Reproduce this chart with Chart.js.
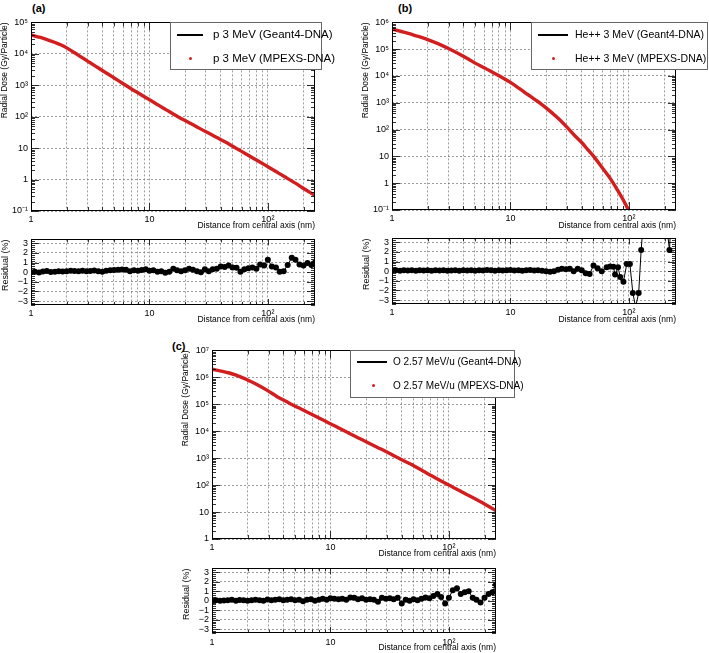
<!DOCTYPE html>
<html><head><meta charset="utf-8">
<script src="https://cdn.jsdelivr.net/npm/chart.js@4.4.1/dist/chart.umd.min.js"></script>
<style>
body{margin:0;width:709px;height:653px;background:#fff;position:relative;overflow:hidden;font-family:"Liberation Sans",Arial,sans-serif}
canvas{position:absolute}
.lab{position:absolute;font-weight:bold;font-size:11px;line-height:12px}
.leg{position:absolute;background:#fff;border:1px solid #666;box-sizing:border-box}
.leg .ln{position:absolute;height:2px;background:#000}
.leg .dt{position:absolute;width:3px;height:3px;border-radius:50%;background:#d21e1e}
.leg .tx{position:absolute;white-space:nowrap;color:#000}
</style></head><body>
<div class="lab" style="left:32px;top:2px">(a)</div>
<div class="lab" style="left:398px;top:2px">(b)</div>
<div class="lab" style="left:172px;top:340px">(c)</div>

<canvas id="mainA"></canvas><canvas id="resA"></canvas>
<canvas id="mainB"></canvas><canvas id="resB"></canvas>
<canvas id="mainC"></canvas><canvas id="resC"></canvas>

<div class="leg" style="left:170px;top:22px;width:152px;height:48px;font-size:11.5px">
  <div class="ln" style="left:6px;top:11px;width:26px"></div>
  <div class="tx" style="left:42px;top:4px;line-height:14px">p 3 MeV (Geant4-DNA)</div>
  <div class="dt" style="left:18px;top:34px"></div>
  <div class="tx" style="left:42px;top:28px;line-height:14px">p 3 MeV (MPEXS-DNA)</div>
</div>
<div class="leg" style="left:531px;top:22px;width:177px;height:48px;font-size:10.5px">
  <div class="ln" style="left:6px;top:11px;width:30px"></div>
  <div class="tx" style="left:43px;top:5px;line-height:13px">He++ 3 MeV (Geant4-DNA)</div>
  <div class="dt" style="left:20px;top:34px"></div>
  <div class="tx" style="left:43px;top:29px;line-height:13px">He++ 3 MeV (MPEXS-DNA)</div>
</div>
<div class="leg" style="left:350px;top:350px;width:165px;height:48px;font-size:10px">
  <div class="ln" style="left:6px;top:10px;width:30px"></div>
  <div class="tx" style="left:42px;top:5px;line-height:12px">O 2.57 MeV/u (Geant4-DNA)</div>
  <div class="dt" style="left:21px;top:33px"></div>
  <div class="tx" style="left:42px;top:29px;line-height:12px">O 2.57 MeV/u (MPEXS-DNA)</div>
</div>

<script>
// ---------------- DATA ----------------
const distMain = [1,1.2,1.4,1.6,1.8,2,2.5,3,3.5,4,4.5,5,6,7,8,9,10,12,14,16,18,20,25,30,35,40,45,50,60,70,80,90,100,120,140,160,180,200,225,250];

const doseA = [39800,33100,27500,22900,19100,15500, 9120,5890,4070,2950,2240,1740, 1120,776,575,437,347, 229,162,120,93,76, 48,33,24.5,18.6,14.8,11.7, 7.9,5.6,4.2,3.24,2.57, 1.70,1.20,0.89,0.68,0.52,0.40,0.31];
const doseB = [562000,457000,380000,316000,269000,229000, 155000,107000,75900,55000,40700,30900, 20400,14100,10200,7600,5750, 3310,2040,1350,933,646, 275,123,59,33,17.8,10.5, 3.63,1.45,0.56,0.23,0.093, null,null,null,null,null,null,null];
const doseC = [2.0e6,1.70e6,1.45e6,1.20e6,9.8e5,7.9e5, 4.9e5,3.09e5,2.0e5,1.45e5,1.10e5,87100, 58900,41700,30900,24000,19100, 12600,8900,6600,5130,4070, 2510,1700,1175,871,676,537, 339,234,170,129,100, 66,45.7,33.9,25.7,20,14.8,11.2];

const distRes = [1,1.08,1.17,1.26,1.36,1.47,1.59,1.71,1.85,2,
 2.16,2.33,2.52,2.72,2.94,3.17,3.42,3.7,4,4.32,
 4.66,5.03,5.44,5.87,6.34,6.85,7.4,8,8.6,9.3,
 10,10.8,11.7,12.6,13.6,14.7,15.9,17.1,18.5,20,
 21.6,23.3,25.2,27.2,29.4,31.7,34.2,37,40,43.2,
 46.6,50.3,54.4,58.7,63.4,68.5,74,80,86,93,
 100,108,117,126,136,147,159,171,185,200,
 216,233,250];

const resA = [0.0,0.05,-0.02,0.08,0.12,0.02,0.05,0.1,0.08,0.1,
 0.15,0.12,0.1,0.14,0.1,0.12,0.18,0.1,0.05,0.15,
 0.2,0.22,0.25,0.28,0.25,0.1,0.2,0.15,0.22,0.3,
 0.15,0.2,0.05,0.1,-0.05,0.05,0.35,0.2,0.1,0.2,
 0.35,0.25,0.1,0.0,0.3,0.1,0.3,0.35,0.6,0.55,
 0.7,0.5,0.45,0.05,0.3,0.4,0.5,0.35,0.8,0.7,
 1.3,0.6,0.5,0.05,0.1,0.75,1.5,1.3,0.8,0.7,
 0.95,0.75,1.0];

const resC = [0.0,0.05,0.0,0.02,0.05,0.1,0.0,0.08,0.05,0.0,
 0.05,0.1,0.05,0.0,0.12,0.05,0.1,0.15,0.05,0.1,
 0.15,0.05,0.1,-0.05,0.1,0.15,0.0,0.1,0.2,0.1,
 0.25,0.2,0.15,0.2,0.1,0.35,0.3,0.15,0.25,0.1,
 0.15,0.1,-0.1,0.3,0.2,0.25,0.15,0.3,-0.3,0.1,
 0.0,0.15,0.05,0.2,0.35,0.25,0.5,0.7,0.4,-0.3,
 0.3,1.1,1.3,0.7,0.9,1.0,0.3,0.1,-0.2,0.3,
 0.7,0.9,1.7];

const distResB = [1,1.08,1.17,1.26,1.36,1.47,1.59,1.71,1.85,2,
 2.16,2.33,2.52,2.72,2.94,3.17,3.42,3.7,4,4.32,
 4.66,5.03,5.44,5.87,6.34,6.85,7.4,8,8.6,9.3,
 10,10.8,11.7,12.6,13.6,14.7,15.9,17.1,18.5,20,
 21.6,23.3,25.2,27.2,29.4,31.7,34.2,37,40,43.2,
 46.6,50.3,54.4,
 59,65,69.5,74,76.5,81,84.5,90,96,102,108,114,121,127,134,142,150,160,170,180,190,200,210,220,232,245];
const resB = [0.08,0.1,0.05,0.1,0.08,0.1,0.05,0.1,0.08,0.1,
 0.05,0.1,0.08,0.1,0.05,0.08,0.1,0.05,0.1,0.08,
 0.1,0.05,0.1,0.08,0.12,0.1,0.05,0.1,0.08,0.1,
 0.12,0.08,0.1,0.05,0.1,0.12,0.08,0.1,0.05,0.0,
 -0.05,0.0,0.15,0.25,0.2,0.25,0.0,0.25,0.1,-0.2,
 -0.3,0.6,0.3,
 0.0,0.4,0.5,0.45,-0.35,0.4,-0.6,-1.1,0.75,0.75,-2.25,-3.7,-2.25,2.2,6,8,9,10,9,10,8,9,4.5,2.2,7,9];

// ticks / labels
const xGrid = [1,2,3,4,5,6,7,8,9,10,20,30,40,50,60,70,80,90,100,200];
const xMajor = [1,10,100];
const xMajorLabels = ['1','10','10²'];
const yDecadesA = [0.1,1,10,100,1e3,1e4,1e5];
const yDecadesB = [0.1,1,10,100,1e3,1e4,1e5,1e6];
const yDecadesC = [1,10,100,1e3,1e4,1e5,1e6,1e7];
const decadeLabels = {0.1:'10⁻¹',1:'1',10:'10',100:'10²',1000:'10³',10000:'10⁴',100000:'10⁵',1000000:'10⁶',10000000:'10⁷'};
const resTicks = [-3,-2,-1,0,1,2,3];
const resTickLabels = ['−3','−2','−1','0','1','2','3'];

const RED = '#d21e1e';
const GRID = 'rgba(110,110,110,0.85)';
const FONT = '"Liberation Sans", Arial, sans-serif';
Chart.defaults.font.family = FONT;
Chart.defaults.color = '#000';

const frameTicks = {
  id: 'frameTicks',
  afterDatasetsDraw(chart, args, o) {
    const {ctx, chartArea: a, scales: {x, y}} = chart;
    ctx.save();
    ctx.strokeStyle = '#000';
    ctx.lineWidth = 0.8;
    ctx.beginPath();
    for (const v of xGrid) {
      const px = Math.round(x.getPixelForValue(v)) + 0.5;
      const len = xMajor.includes(v) ? o.xMajorLen : o.xMinorLen;
      ctx.moveTo(px, a.bottom); ctx.lineTo(px, a.bottom - len);
      ctx.moveTo(px, a.top); ctx.lineTo(px, a.top + len);
    }
    for (const t of o.yTicks) {
      const py = Math.round(y.getPixelForValue(t.v)) + 0.5;
      const len = t.major ? o.yMajorLen : o.yMinorLen;
      ctx.moveTo(a.left, py); ctx.lineTo(a.left + len, py);
      ctx.moveTo(a.right, py); ctx.lineTo(a.right - len, py);
    }
    ctx.stroke();
    ctx.lineWidth = 1;
    ctx.strokeRect(Math.round(a.left) + 0.5, Math.round(a.top) + 0.5,
                   Math.round(a.right - a.left) - 1, Math.round(a.bottom - a.top) - 1);
    ctx.restore();
  }
};

function logMinor(decades) {
  const out = [];
  for (let i = 0; i < decades.length; i++) {
    out.push({v: decades[i], major: true});
    if (i < decades.length - 1) for (let k = 2; k <= 9; k++) out.push({v: decades[i] * k, major: false});
  }
  return out;
}
function linMinor() {
  const out = [];
  for (let i = -17; i <= 17; i++) out.push({v: i / 5, major: i % 5 === 0});
  return out;
}

const PADT = 6, PADR = 6, WY = 31;
function setupCanvas(id, box, hx) {
  const c = document.getElementById(id);
  const w = WY + (box.R - box.L) + PADR;
  const h = PADT + (box.B - box.T) + hx;
  c.width = w; c.height = h;
  c.style.left = (box.L - WY) + 'px';
  c.style.top = (box.T - PADT) + 'px';
  c.style.width = w + 'px'; c.style.height = h + 'px';
  return c;
}

function xScale(hx, tickPad) {
  return {
    type: 'logarithmic', min: 1, max: 250,
    afterBuildTicks: s => { s.ticks = xGrid.map(v => ({value: v})); },
    ticks: {
      autoSkip: false, maxRotation: 0, minRotation: 0, padding: tickPad,
      font: {size: 9, family: FONT}, color: '#000',
      callback: v => { const i = xMajor.indexOf(v); return i >= 0 ? xMajorLabels[i] : ''; }
    },
    grid: {color: GRID, lineWidth: 0.8, drawTicks: false},
    border: {display: false, dash: [2, 2]},
    title: {display: true, text: 'Distance from central axis (nm)', align: 'end',
            font: {size: 8.5, family: FONT}, color: '#000', padding: {top: 0, bottom: 0}},
    afterFit: s => { s.height = hx; }
  };
}

function mainChart(id, box, hx, dose, decades, ymin, ymax) {
  const c = setupCanvas(id, box, hx);
  const pts = distMain.map((x, i) => ({x: x, y: dose[i]}));
  new Chart(c, {
    type: 'line',
    data: {datasets: [
      {label: 'MPEXS-DNA', data: pts, borderColor: RED, borderWidth: 3.4, pointRadius: 0, cubicInterpolationMode: 'monotone', order: 0, spanGaps: false},
      {label: 'Geant4-DNA', data: pts, borderColor: '#000', borderWidth: 1.6, pointRadius: 0, cubicInterpolationMode: 'monotone', order: 1, spanGaps: false}
    ]},
    options: {
      responsive: false, devicePixelRatio: 1, animation: false,
      layout: {padding: {top: PADT, right: PADR, left: 0, bottom: 0}},
      plugins: {legend: {display: false}, tooltip: {enabled: false},
        frameTicks: {xMajorLen: 8, xMinorLen: 4, yMajorLen: 8, yMinorLen: 4, yTicks: logMinor(decades)}},
      scales: {
        x: xScale(hx, 3),
        y: {
          type: 'logarithmic', min: ymin, max: ymax,
          afterBuildTicks: s => { s.ticks = decades.map(v => ({value: v})); },
          ticks: {autoSkip: false, padding: 3, font: {size: 9, family: FONT}, color: '#000',
                  callback: v => decadeLabels[v] || ''},
          grid: {color: GRID, lineWidth: 0.8, drawTicks: false},
          border: {display: false, dash: [2, 2]},
          title: {display: true, text: 'Radial Dose (Gy/Particle)', align: 'end',
                  font: {size: 8.5, family: FONT}, color: '#000', padding: 0},
          afterFit: s => { s.width = WY; }
        }
      }
    },
    plugins: [frameTicks]
  });
}

function resChart(id, box, hx, xs, res, tickPad) {
  const c = setupCanvas(id, box, hx);
  const pts = xs.map((x, i) => ({x: x, y: res[i]}));
  new Chart(c, {
    type: 'line',
    data: {datasets: [
      {label: 'Residual', data: pts, borderColor: '#000', borderWidth: 1, pointRadius: 3,
       pointBackgroundColor: '#000', pointBorderWidth: 0, tension: 0}
    ]},
    options: {
      responsive: false, devicePixelRatio: 1, animation: false,
      layout: {padding: {top: PADT, right: PADR, left: 0, bottom: 0}},
      plugins: {legend: {display: false}, tooltip: {enabled: false},
        frameTicks: {xMajorLen: 6, xMinorLen: 3, yMajorLen: 8, yMinorLen: 4, yTicks: linMinor()}},
      scales: {
        x: xScale(hx, tickPad),
        y: {
          type: 'linear', min: -3.4, max: 3.4,
          afterBuildTicks: s => { s.ticks = resTicks.map(v => ({value: v})); },
          ticks: {autoSkip: false, padding: 3, font: {size: 9, family: FONT}, color: '#000',
                  callback: v => { const i = resTicks.indexOf(v); return i >= 0 ? resTickLabels[i] : ''; }},
          grid: {color: GRID, lineWidth: 0.8, drawTicks: false},
          border: {display: false, dash: [2, 2]},
          title: {display: true, text: 'Residual (%)', align: 'end',
                  font: {size: 9, family: FONT}, color: '#000', padding: 0},
          afterFit: s => { s.width = WY; }
        }
      }
    },
    plugins: [frameTicks]
  });
}

mainChart('mainA', {L: 31, T: 20, R: 315, B: 211}, 20, doseA, yDecadesA, 0.1, 1e5);
resChart('resA', {L: 31, T: 237, R: 315, B: 305}, 20, distRes, resA, 3);
mainChart('mainB', {L: 392, T: 20, R: 676, B: 210}, 21, doseB, yDecadesB, 0.1, 1e6);
resChart('resB', {L: 392, T: 236, R: 676, B: 304}, 21, distResB, resB, 3);
mainChart('mainC', {L: 212, T: 348, R: 496, B: 539}, 20, doseC, yDecadesC, 1, 1e7);
resChart('resC', {L: 212, T: 566, R: 496, B: 633}, 20, distRes, resC, 4);
</script>
</body></html>
